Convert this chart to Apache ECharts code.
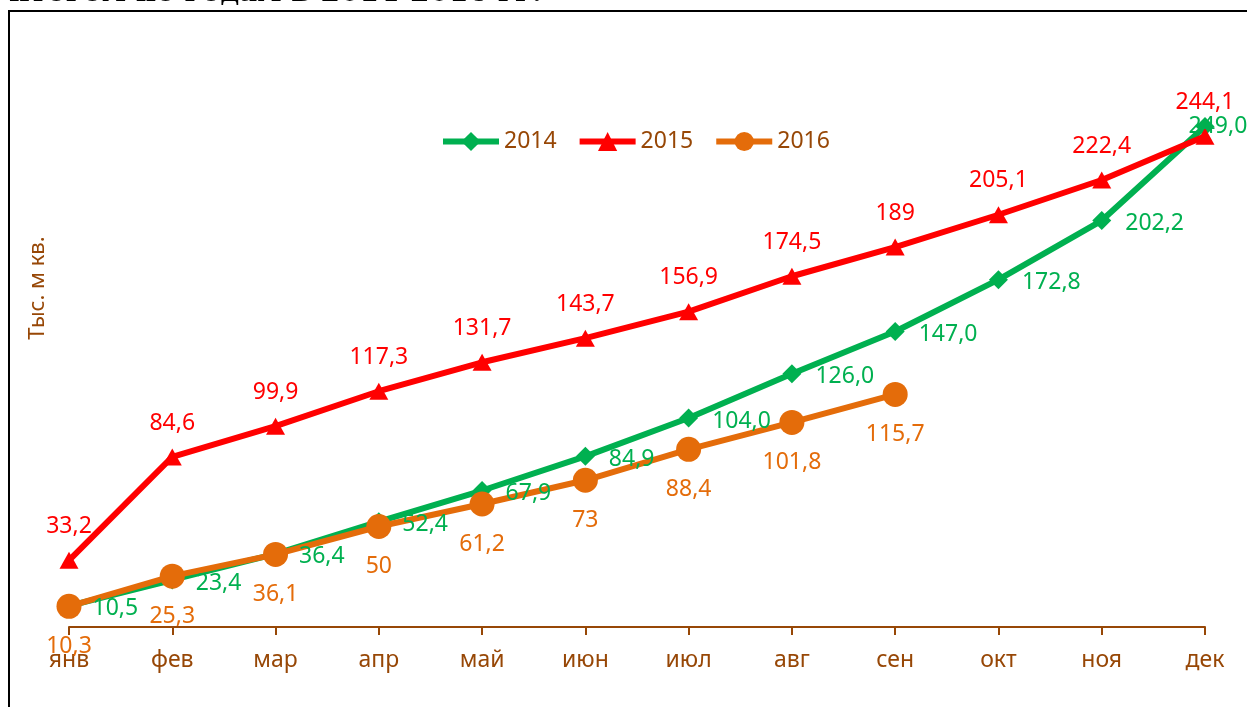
<!DOCTYPE html>
<html>
<head>
<meta charset="utf-8">
<script src="https://cdn.jsdelivr.net/npm/echarts@6/dist/echarts.min.js"></script>
<style>
  html, body { margin: 0; padding: 0; background: #fff; }
  #chart { width: 1247px; height: 707px; }
</style>
</head>
<body>
<div id="chart"></div>
<script>
  let months = ['янв', 'фев', 'мар', 'апр', 'май', 'июн', 'июл', 'авг', 'сен', 'окт', 'ноя', 'дек']
  let data2014 = [10.5, 23.4, 36.4, 52.4, 67.9, 84.9, 104.0, 126.0, 147.0, 172.8, 202.2, 249.0]
  let data2015 = [33.2, 84.6, 99.9, 117.3, 131.7, 143.7, 156.9, 174.5, 189, 205.1, 222.4, 244.1]
  let data2016 = [10.3, 25.3, 36.1, 50, 61.2, 73, 88.4, 101.8, 115.7]

  let brown = '#974706'
  let font = '"Noto Sans", sans-serif'
  let fs = 23

  // last green label sits over the marker in the original
  let green = data2014.map((v, i) => i === data2014.length - 1 ? { value: v, label: { offset: [-40, 0] } } : v)

  let chart = echarts.init(document.getElementById('chart'))
  chart.setOption({
    animation: false,
    grid: {
      left: 69,
      right: 42,
      top: 24,
      bottom: 80
    },
    graphic: [
      {
        type: 'rect',
        shape: { x: 9, y: 11, width: 1270, height: 720 },
        style: { fill: 'none', stroke: '#000', lineWidth: 2 }
      },
      {
        type: 'text',
        x: 9,
        y: 8,
        style: {
          text: 'итогом по годам в 2014-2016 гг.',
          font: 'bold 28px "DejaVu Serif", serif',
          fill: '#000',
          verticalAlign: 'bottom'
        }
      },
      {
        type: 'text',
        x: 38,
        y: 288,
        rotation: Math.PI / 2,
        style: {
          text: 'Тыс. м кв.',
          font: '22px ' + font,
          fill: brown,
          align: 'center',
          verticalAlign: 'middle'
        }
      }
    ],
    legend: {
      left: 435,
      top: 125,
      itemWidth: 56,
      itemHeight: 24,
      itemGap: 20,
      lineStyle: { width: 6 },
      textStyle: {
        fontSize: fs,
        fontFamily: font,
        color: brown
      },
      data: ['2014', '2015', '2016']
    },
    xAxis: {
      type: 'category',
      boundaryGap: false,
      data: months,
      axisLine: {
        lineStyle: { color: brown, width: 2 }
      },
      axisTick: {
        show: true,
        length: 8,
        lineStyle: { color: brown, width: 2 }
      },
      axisLabel: {
        interval: 0,
        margin: 22,
        fontSize: fs,
        fontFamily: font,
        color: brown
      }
    },
    yAxis: {
      type: 'value',
      min: 0,
      max: 300,
      show: false,
      splitLine: { show: false }
    },
    series: [
      {
        name: '2014',
        type: 'line',
        data: green,
        symbol: 'diamond',
        symbolSize: 19,
        lineStyle: { width: 6, color: '#00B050' },
        itemStyle: { color: '#00B050' },
        label: {
          show: true,
          position: 'right',
          distance: 14,
          offset: [0, 3],
          fontSize: fs,
          fontFamily: font,
          color: '#00B050',
          formatter: p => p.value.toFixed(1).replace('.', ',')
        }
      },
      {
        name: '2015',
        type: 'line',
        data: data2015,
        symbol: 'triangle',
        symbolSize: [19, 17],
        lineStyle: { width: 6, color: '#FF0000' },
        itemStyle: { color: '#FF0000' },
        label: {
          show: true,
          position: 'top',
          distance: 14,
          fontSize: fs,
          fontFamily: font,
          color: '#FF0000',
          formatter: p => String(p.value).replace('.', ',')
        }
      },
      {
        name: '2016',
        type: 'line',
        data: data2016,
        symbol: 'circle',
        symbolSize: 25,
        lineStyle: { width: 6, color: '#E46C0A' },
        itemStyle: { color: '#E46C0A' },
        label: {
          show: true,
          position: 'bottom',
          distance: 16,
          fontSize: fs,
          fontFamily: font,
          color: '#E46C0A',
          formatter: p => String(p.value).replace('.', ',')
        }
      }
    ]
  })
</script>
</body>
</html>
